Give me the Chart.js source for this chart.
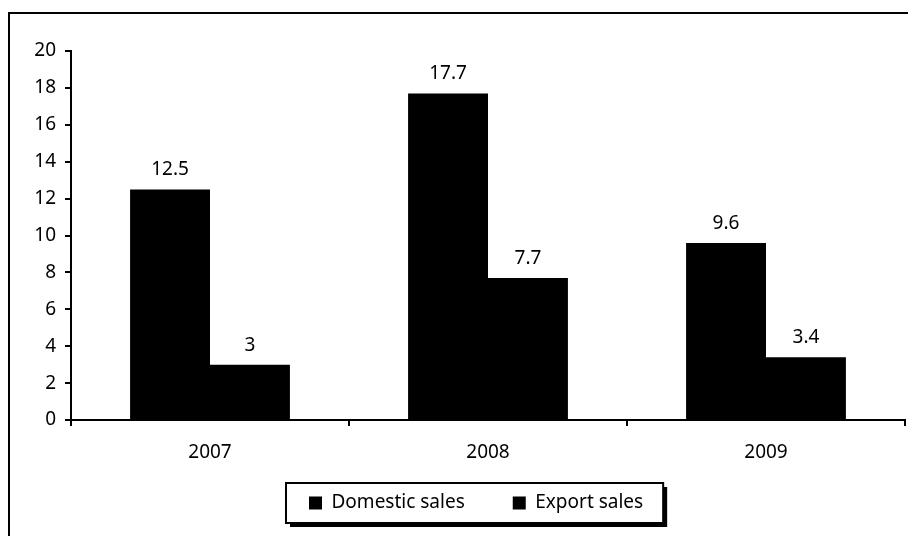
<!DOCTYPE html>
<html>
<head>
<meta charset="utf-8">
<script src="https://cdn.jsdelivr.net/npm/chart.js@4.4.1/dist/chart.umd.min.js"></script>
<style>
  html, body { margin: 0; padding: 0; background: #fff; }
  #wrap { position: relative; width: 908px; height: 536px; }
</style>
</head>
<body>
<div id="wrap"><canvas id="chart" width="908" height="536"></canvas></div>
<script>
  var YEARS = ['2007', '2008', '2009'];
  var DOMESTIC = [12.5, 17.7, 9.6];
  var EXPORT = [3, 7.7, 3.4];
  var Y_MIN = 0, Y_MAX = 20, Y_STEP = 2;

  var FONT = '"Noto Sans", "DejaVu Sans", sans-serif';
  var INK = '#000';

  // frame line (top + left only, the rest falls outside the picture)
  var framePlugin = {
    id: 'frame',
    beforeDraw: function(chart) {
      var ctx = chart.ctx;
      ctx.save();
      ctx.strokeStyle = INK;
      ctx.lineWidth = 2;
      ctx.beginPath();
      ctx.moveTo(9, chart.height);
      ctx.lineTo(9, 13);
      ctx.lineTo(chart.width, 13);
      ctx.stroke();
      ctx.restore();
    }
  };

  // numbers above each bar
  var valuePlugin = {
    id: 'values',
    afterDatasetsDraw: function(chart) {
      var ctx = chart.ctx;
      ctx.save();
      ctx.fillStyle = INK;
      ctx.font = '19px ' + FONT;
      ctx.textAlign = 'center';
      ctx.textBaseline = 'alphabetic';
      chart.data.datasets.forEach(function(ds, i) {
        chart.getDatasetMeta(i).data.forEach(function(bar, j) {
          ctx.fillText(String(ds.data[j]), bar.x, bar.y - 14);
        });
      });
      ctx.restore();
    }
  };

  // legend: move it under the plot like the original, then box it with a drop shadow
  var LEGEND_LEFT = 309, LEGEND_MID = 503;
  var legendBoxPlugin = {
    id: 'legendBox',
    afterUpdate: function(chart) {
      var lg = chart.legend;
      if (!lg || !lg.legendHitBoxes.length) return;
      var b0 = lg.legendHitBoxes[0];
      var dx = LEGEND_LEFT - b0.left;
      var dy = (LEGEND_MID - b0.height / 2) - b0.top;
      lg.left += dx; lg.right += dx;
      lg.top += dy;
      lg.bottom = lg.top + lg.options.labels.padding + b0.height + 20;
      lg.legendHitBoxes.forEach(function(b) { b.left += dx; b.top += dy; });
    },
    beforeDraw: function(chart) {
      var boxes = chart.legend && chart.legend.legendHitBoxes;
      if (!boxes || !boxes.length) return;
      var first = boxes[0], last = boxes[boxes.length - 1];
      var cy = first.top + first.height / 2;
      var x0 = first.left - 23, x1 = last.left + last.width + 20;
      var y0 = cy - 20, y1 = cy + 20;
      var ctx = chart.ctx;
      ctx.save();
      ctx.fillStyle = INK;
      ctx.fillRect(x0 + 4, y0 + 4, x1 - x0, y1 - y0);
      ctx.fillStyle = '#fff';
      ctx.fillRect(x0, y0, x1 - x0, y1 - y0);
      ctx.strokeStyle = INK;
      ctx.lineWidth = 2;
      ctx.strokeRect(x0, y0, x1 - x0, y1 - y0);
      ctx.restore();
    }
  };

  new Chart(document.getElementById('chart'), {
    type: 'bar',
    data: {
      labels: YEARS,
      datasets: [
        { label: 'Domestic sales', data: DOMESTIC, backgroundColor: INK, borderWidth: 0 },
        { label: 'Export sales', data: EXPORT, backgroundColor: INK, borderWidth: 0 }
      ]
    },
    options: {
      responsive: false,
      animation: false,
      devicePixelRatio: 1,
      categoryPercentage: 0.575,
      barPercentage: 1,
      layout: { padding: { left: 20, right: 3, top: 51, bottom: 26 } },
      plugins: {
        legend: {
          position: 'bottom',
          maxHeight: 40,
          labels: { color: INK, font: { family: FONT, size: 19 }, boxWidth: 13, boxHeight: 13, padding: 48 }
        },
        tooltip: { enabled: false }
      },
      scales: {
        x: {
          grid: { display: true, drawOnChartArea: false, drawTicks: true, tickLength: 6, color: INK, lineWidth: 2, offset: true },
          border: { display: true, color: INK, width: 2 },
          ticks: { color: INK, font: { family: FONT, size: 19 }, padding: 15 },
          afterFit: function(s) { s.height = 50; }
        },
        y: {
          min: Y_MIN, max: Y_MAX,
          grid: { display: true, drawOnChartArea: false, drawTicks: true, tickLength: 6, color: INK, lineWidth: 2 },
          border: { display: true, color: INK, width: 2 },
          ticks: { stepSize: Y_STEP, color: INK, font: { family: FONT, size: 19 }, padding: 9 },
          afterFit: function(s) { s.width = 51; }
        }
      }
    },
    plugins: [framePlugin, legendBoxPlugin, valuePlugin]
  });
</script>
</body>
</html>
